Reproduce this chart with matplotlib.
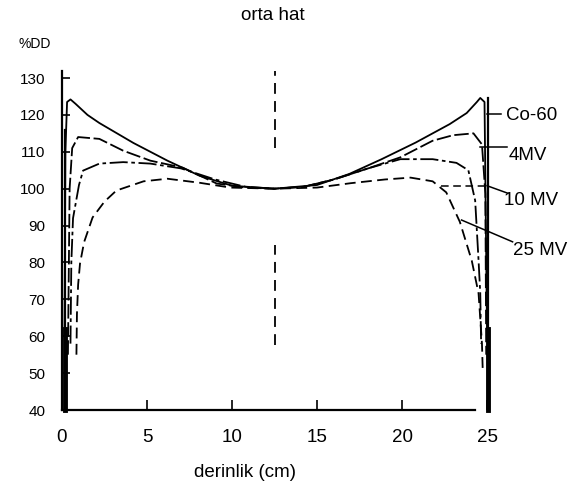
import matplotlib
matplotlib.use("Agg")
import matplotlib.pyplot as plt

plt.rcParams['font.family'] = ['Liberation Sans', 'DejaVu Sans']

# ---- data ----
co60_x = [0.15, 0.2, 0.3, 0.5, 0.8, 1.5, 2.2, 4.2, 6.2, 8.1, 10.0, 12.5, 15.0, 16.9, 18.8, 20.8, 22.8, 23.8, 24.4, 24.6, 24.85, 25.0]
co60_y = [60, 110, 123.5, 124.2, 123, 120, 117.8, 112.4, 107.6, 103.5, 100.8, 100, 101, 104, 108, 112.5, 117.5, 120.5, 123.5, 124.6, 123.5, 60]

mv4_x = [0.35, 0.45, 0.6, 0.95, 2.2, 3.6, 5.2, 7.1, 9.1, 10.8, 12.5, 14.2, 16.0, 18.0, 19.9, 21.8, 23.0, 24.2, 24.7, 24.9, 24.95]
mv4_y = [55, 100, 111, 114, 113.5, 110.3, 107.6, 105.7, 101.4, 100.3, 100, 100.5, 102.5, 105.5, 108.5, 113, 114.5, 115, 112, 98.6, 55]

mv10_x = [0.5, 0.55, 0.65, 1.0, 1.24, 2.2, 3.6, 5.2, 7.0, 9.0, 10.8, 12.5, 14.2, 16.0, 18.0, 19.9, 21.8, 23.2, 23.9, 24.3, 24.5, 24.6, 24.65]
mv10_y = [58, 80, 92, 101, 104.9, 106.8, 107.2, 106.8, 105.5, 102.5, 100.5, 100, 100.5, 102.5, 105.5, 108, 108, 107, 105, 96.8, 80.5, 71.6, 58]

mv25_x = [0.85, 0.88, 0.95, 1.06, 1.3, 1.8, 2.5, 3.2, 4.8, 6.2, 8.1, 9.9, 12.5, 15.0, 17.0, 19.0, 20.5, 21.8, 22.6, 23.4, 24.1, 24.5, 24.7, 24.75]
mv25_y = [55, 66, 74, 79.7, 85.5, 92.2, 96.5, 99.5, 102, 102.7, 101.6, 100.3, 100, 100.3, 101.5, 102.5, 103, 102, 99, 91, 80.5, 71.6, 58, 50]

series_labels = ["Co-60", "4MV", "10 MV", "25 MV"]
label_pos_x = [26.1, 26.25, 26.0, 26.55]
label_pos_y = [119.8, 109.0, 96.8, 83.3]
leader_start_x = [25.0, 24.6, 25.0, 23.5]
leader_start_y = [120.3, 111.2, 100.8, 91.5]
leader_end_x = [25.8, 26.2, 26.2, 26.5]
leader_end_y = [120.3, 111.2, 98.8, 85.6]

edge_x = [0.18, 25.05]
edge_top = [116, 124.5]
center_x = 12.5
center_segments = [(111, 132), (57.6, 84.6)]

x_ticks = [0, 5, 10, 15, 20, 25]
y_ticks = [40, 50, 60, 70, 80, 90, 100, 110, 120, 130]

# ---- figure ----
fig = plt.figure(figsize=(5.76, 4.94), dpi=100)
ax = fig.add_axes([0.1076, 0.170, 0.738, 0.687])
ax.set_xlim(0, 25)
ax.set_ylim(40, 132)

lw = 1.3
ax.plot(co60_x, co60_y, color='black', lw=lw, ls='-', clip_on=False)
ax.plot(mv4_x, mv4_y, color='black', lw=lw, ls=(0, (8, 2)), clip_on=False)
ax.plot(mv10_x, mv10_y, color='black', lw=lw, ls=(0, (10, 2, 2, 2)), clip_on=False)
ax.plot(mv25_x, mv25_y, color='black', lw=lw, ls=(0, (6, 3)), clip_on=False)

# edge lines at surfaces
for ex, et in zip(edge_x, edge_top):
    ax.plot([ex, ex], [40, et], color='black', lw=1.6, clip_on=False)
    ax.plot([ex, ex], [40, 62], color='black', lw=3.5, clip_on=False)

# centre line (orta hat)
for lo, hi in center_segments:
    ax.plot([center_x, center_x], [lo, hi], color='black', lw=1.3, ls=(0, (6, 4)), clip_on=False)

# leaders and labels
for i, lab in enumerate(series_labels):
    if i == 2:
        ax.plot([22.3, 25.0], [leader_start_y[i], leader_start_y[i]], color='black', lw=1.1, ls=(0, (5, 3)), clip_on=False)
    ax.plot([leader_start_x[i], leader_end_x[i]], [leader_start_y[i], leader_end_y[i]], color='black', lw=1.1, clip_on=False)
    ax.text(label_pos_x[i], label_pos_y[i], lab, fontsize=13.5, ha='left', va='center', clip_on=False)

ax.spines['top'].set_visible(False)
ax.spines['right'].set_visible(False)
ax.spines['bottom'].set_bounds(0, 24.3)
ax.spines['bottom'].set_linewidth(1.6)
ax.spines['left'].set_linewidth(1.6)

ax.set_xticks(x_ticks)
ax.set_xticklabels([str(t) for t in x_ticks])
ax.set_yticks(y_ticks)
ax.set_yticklabels([str(t) for t in y_ticks])
ax.tick_params(axis='x', direction='in', length=7, width=1.2, labelsize=13.5, pad=14)
ax.tick_params(axis='y', direction='in', length=6, width=1.2, labelsize=11, pad=12)

ax.set_xlabel("derinlik (cm)", fontsize=13.5)
ax.xaxis.set_label_coords(0.43, -0.18, transform=None) if False else ax.xaxis.set_label_coords(0.43, -0.16)

fig.text(0.474, 0.968, "orta hat", fontsize=13.5, ha='center', va='center')
fig.text(0.06, 0.91, "%DD", fontsize=10, ha='center', va='center')

fig.savefig("out.png", dpi=100)
